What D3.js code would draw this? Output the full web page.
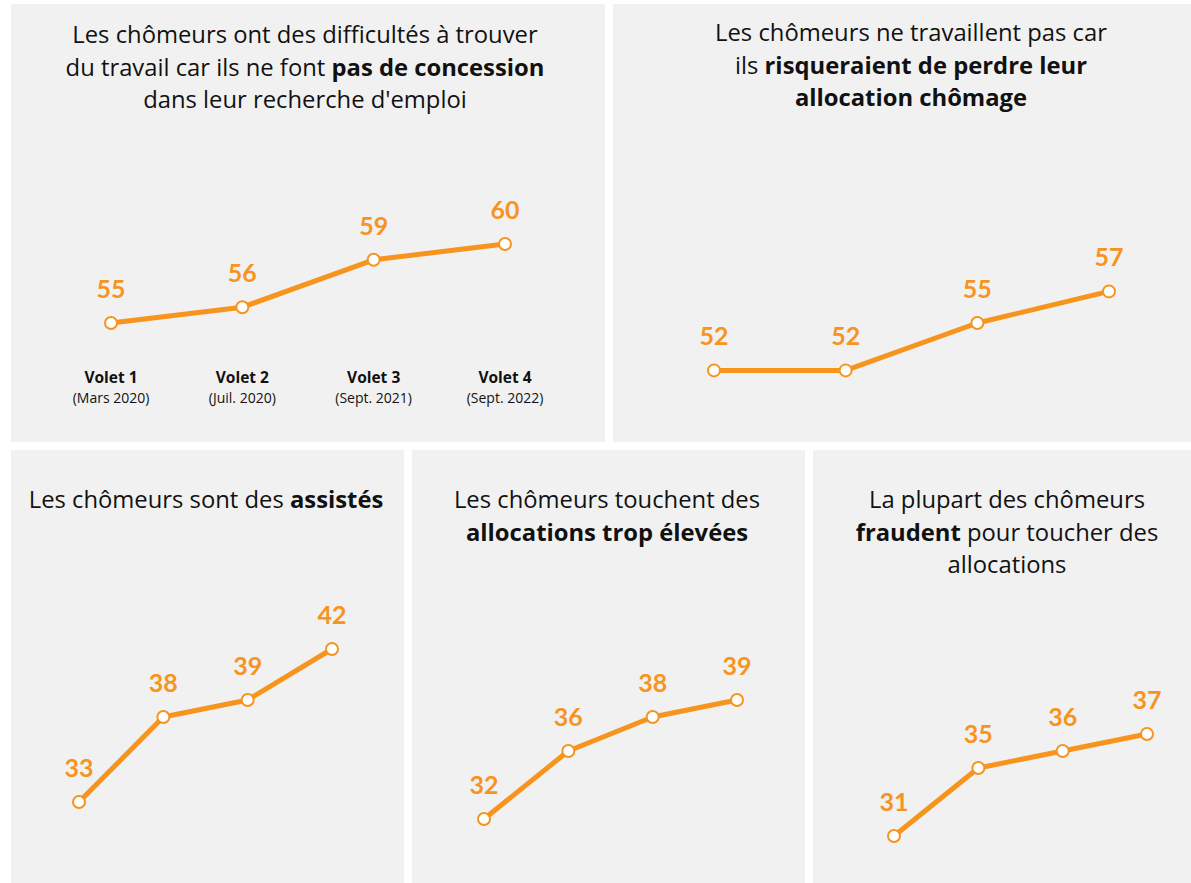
<!DOCTYPE html>
<html><head><meta charset="utf-8">
<script src="https://cdn.jsdelivr.net/npm/d3@7"></script>
<style>
html,body{margin:0;padding:0;background:#fff;}
svg{display:block;}
text{font-variant-ligatures:none;}
</style></head>
<body>
<svg id="c" width="1191" height="883"></svg>
<script>
// ---- data ----
const waves = ["Volet 1", "Volet 2", "Volet 3", "Volet 4"];
const waveDates = ["(Mars 2020)", "(Juil. 2020)", "(Sept. 2021)", "(Sept. 2022)"];
const concession = [55, 56, 59, 60];
const perteAllocation = [52, 52, 55, 57];
const assistes = [33, 38, 39, 42];
const allocationsElevees = [32, 36, 38, 39];
const fraude = [31, 35, 36, 37];
const title1 = [[["Les chômeurs ont des difficultés à trouver", false]], [["du travail car ils ne font ", false], ["pas de concession", true]], [["dans leur recherche d'emploi", false]]];
const title2 = [[["Les chômeurs ne travaillent pas car", false]], [["ils ", false], ["risqueraient de perdre leur", true]], [["allocation chômage", true]]];
const title3 = [[["Les chômeurs sont des ", false], ["assistés", true]]];
const title4 = [[["Les chômeurs touchent des", false]], [["allocations trop élevées", true]]];
const title5 = [[["La plupart des chômeurs", false]], [["fraudent", true], [" pour toucher des", false]], [["allocations", false]]];

// ---- layout ----
const ORANGE = "#F7941D";
const TFONT = "'Open Sans', Lato, sans-serif";
const FONT = "Lato, 'Open Sans', sans-serif";
const svg = d3.select("#c");

const yTop = d3.scaleLinear().domain([50, 60]).range([402, 244]);
const yBot = d3.scaleLinear().domain([30, 45]).range([853, 598]);

const panels = [
  {rect: [11, 4, 594, 438], values: concession, title: title1, tx: 305, ty: 35, x0: 111, x1: 505, y: yTop, axis: true},
  {rect: [613, 4, 578, 438], values: perteAllocation, title: title2, tx: 911, ty: 33, x0: 714, x1: 1109, y: yTop},
  {rect: [11, 450, 393, 433], values: assistes, title: title3, tx: 206, ty: 500, x0: 79, x1: 332, y: yBot},
  {rect: [412, 450, 393, 433], values: allocationsElevees, title: title4, tx: 607, ty: 500, x0: 484, x1: 737, y: yBot},
  {rect: [813, 450, 378, 433], values: fraude, title: title5, tx: 1007, ty: 500, x0: 894, x1: 1147, y: yBot}
];

panels.forEach(p => {
  const g = svg.append("g");
  g.append("rect").attr("x", p.rect[0]).attr("y", p.rect[1])
    .attr("width", p.rect[2]).attr("height", p.rect[3]).attr("fill", "#f1f1f1");

  // title
  const t = g.append("text").attr("text-anchor", "middle")
    .attr("font-family", TFONT).attr("font-size", 23.8).attr("fill", "#111");
  p.title.forEach((line, i) => {
    const tl = t.append("tspan").attr("x", p.tx).attr("y", p.ty + i * 32.5).attr("dy", "0.35em");
    line.forEach(seg => {
      tl.append("tspan").text(seg[0]).attr("font-weight", seg[1] ? 700 : 400);
    });
  });

  const x = d3.scalePoint().domain(waves).range([p.x0, p.x1]);
  const pts = p.values.map((v, i) => ({w: waves[i], v}));

  g.append("path").datum(pts)
    .attr("d", d3.line().x(d => x(d.w)).y(d => p.y(d.v)))
    .attr("fill", "none").attr("stroke", ORANGE).attr("stroke-width", 5)
    .attr("stroke-linejoin", "round");

  g.selectAll("circle").data(pts).join("circle")
    .attr("cx", d => x(d.w)).attr("cy", d => p.y(d.v)).attr("r", 6)
    .attr("fill", "#fff").attr("stroke", ORANGE).attr("stroke-width", 2);

  g.selectAll("text.val").data(pts).join("text").attr("class", "val")
    .attr("x", d => x(d.w)).attr("y", d => p.y(d.v) - 34).attr("dy", "0.35em")
    .attr("text-anchor", "middle").attr("font-family", FONT)
    .attr("font-weight", 700).attr("font-size", 25).attr("fill", ORANGE)
    .text(d => d.v);

  if (p.axis) {
    const ax = g.append("g").attr("transform", "translate(0,378)");
    ax.selectAll("text.w").data(waves).join("text").attr("class", "w")
      .attr("x", d => x(d)).attr("dy", "0.35em").attr("text-anchor", "middle")
      .attr("font-family", TFONT).attr("font-weight", 700).attr("font-size", 15.5).attr("fill", "#111")
      .text(d => d);
    ax.selectAll("text.d").data(waves).join("text").attr("class", "d")
      .attr("x", d => x(d)).attr("y", 20).attr("dy", "0.35em").attr("text-anchor", "middle")
      .attr("font-family", TFONT).attr("font-size", 14).attr("fill", "#111")
      .text((d, i) => waveDates[i]);
  }
});
</script>
</body></html>
